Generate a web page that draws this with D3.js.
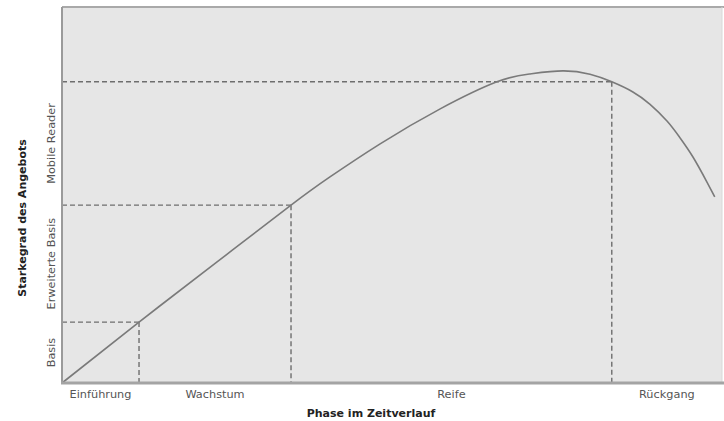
<!DOCTYPE html>
<html>
<head>
<meta charset="utf-8">
<script src="https://cdn.jsdelivr.net/npm/d3@7"></script>
<style>
  html, body { margin: 0; padding: 0; background: #fff; }
  svg { display: block; }
  text { font-family: "DejaVu Sans", Verdana, sans-serif; }
</style>
</head>
<body>
<svg id="chart" width="724" height="421"></svg>
<script>
// ---- data ----
const phases = ["Einführung", "Wachstum", "Reife", "Rückgang"];
const phaseBounds = [0, 11.67, 34.7, 83.3, 100];
const levels = ["Basis", "Erweiterte Basis", "Mobile Reader"];
const levelBounds = [0, 16.2, 47.3, 80.1];
const curveX = [0, 11.67, 23.2, 34.7, 40.6, 48.2, 57.3, 65.9, 70.9, 75.9, 80.0, 83.3, 86.5, 89.1, 91.7, 93.6, 95.6, 97.7, 98.9];
const curveY = [0, 16.2, 31.8, 47.3, 54.8, 63.6, 72.9, 80.1, 82.2, 83.0, 82.1, 80.1, 77.4, 74.1, 69.6, 65.3, 60.1, 53.5, 49.5];
const xTitle = "Phase im Zeitverlauf";
const yTitle = "Starkegrad des Angebots";

// ---- layout ----
const svg = d3.select("#chart");
const mLeft = 62, mRight = 722, mTop = 7, mBottom = 383;
const x = d3.scaleLinear().domain([0, 100]).range([mLeft, mRight]);
const y = d3.scaleLinear().domain([0, 100]).range([mBottom, mTop]);

// plot background
svg.append("rect")
  .attr("x", mLeft).attr("y", mTop)
  .attr("width", mRight - mLeft).attr("height", mBottom - mTop)
  .attr("fill", "#e6e6e6");

// borders
svg.append("line").attr("x1", mLeft).attr("x2", 724).attr("y1", mTop).attr("y2", mTop)
  .attr("stroke", "#a9a9a9").attr("stroke-width", 2);
svg.append("line").attr("x1", mRight).attr("x2", mRight).attr("y1", mTop).attr("y2", mBottom)
  .attr("stroke", "#d8d8d8").attr("stroke-width", 1);

// dashed guides
const guides = [1, 2, 3].map(i => ({ px: phaseBounds[i], ly: levelBounds[i] }));
const g = svg.append("g").attr("stroke", "#6e6e6e").attr("stroke-width", 1.4)
  .attr("stroke-dasharray", "5,3").attr("fill", "none");
guides.forEach(d => {
  g.append("line").attr("x1", x(0)).attr("x2", x(d.px)).attr("y1", y(d.ly)).attr("y2", y(d.ly));
  g.append("line").attr("x1", x(d.px)).attr("x2", x(d.px)).attr("y1", y(d.ly)).attr("y2", y(0));
});

// curve
const pts = curveX.map((v, i) => [v, curveY[i]]);
svg.append("path")
  .datum(pts)
  .attr("fill", "none")
  .attr("stroke", "#7a7a7a")
  .attr("stroke-width", 1.6)
  .attr("d", d3.line().x(d => x(d[0])).y(d => y(d[1])).curve(d3.curveNatural));

// axes lines
svg.append("line").attr("x1", mLeft).attr("x2", mLeft).attr("y1", mTop).attr("y2", mBottom + 1)
  .attr("stroke", "#9a9a9a").attr("stroke-width", 2);
svg.append("line").attr("x1", mLeft - 1).attr("x2", 724).attr("y1", mBottom).attr("y2", mBottom)
  .attr("stroke", "#a4a4a4").attr("stroke-width", 3);

// x category labels
svg.append("g").selectAll("text").data(phases).join("text")
  .attr("x", (d, i) => x((phaseBounds[i] + phaseBounds[i + 1]) / 2))
  .attr("y", 398)
  .attr("text-anchor", "middle")
  .attr("font-size", 11.3)
  .attr("fill", "#555")
  .text(d => d);

// y category labels
svg.append("g").selectAll("text").data(levels).join("text")
  .attr("transform", (d, i) => `translate(55,${y((levelBounds[i] + levelBounds[i + 1]) / 2)}) rotate(-90)`)
  .attr("text-anchor", "middle")
  .attr("font-size", 11.3)
  .attr("fill", "#555")
  .text(d => d);

// titles
svg.append("text")
  .attr("x", 371).attr("y", 417)
  .attr("text-anchor", "middle")
  .attr("font-size", 11).attr("font-weight", "bold")
  .attr("fill", "#222")
  .text(xTitle);
svg.append("text")
  .attr("transform", `translate(26,218) rotate(-90)`)
  .attr("text-anchor", "middle")
  .attr("font-size", 11).attr("font-weight", "bold")
  .attr("fill", "#222")
  .text(yTitle);
</script>
</body>
</html>
